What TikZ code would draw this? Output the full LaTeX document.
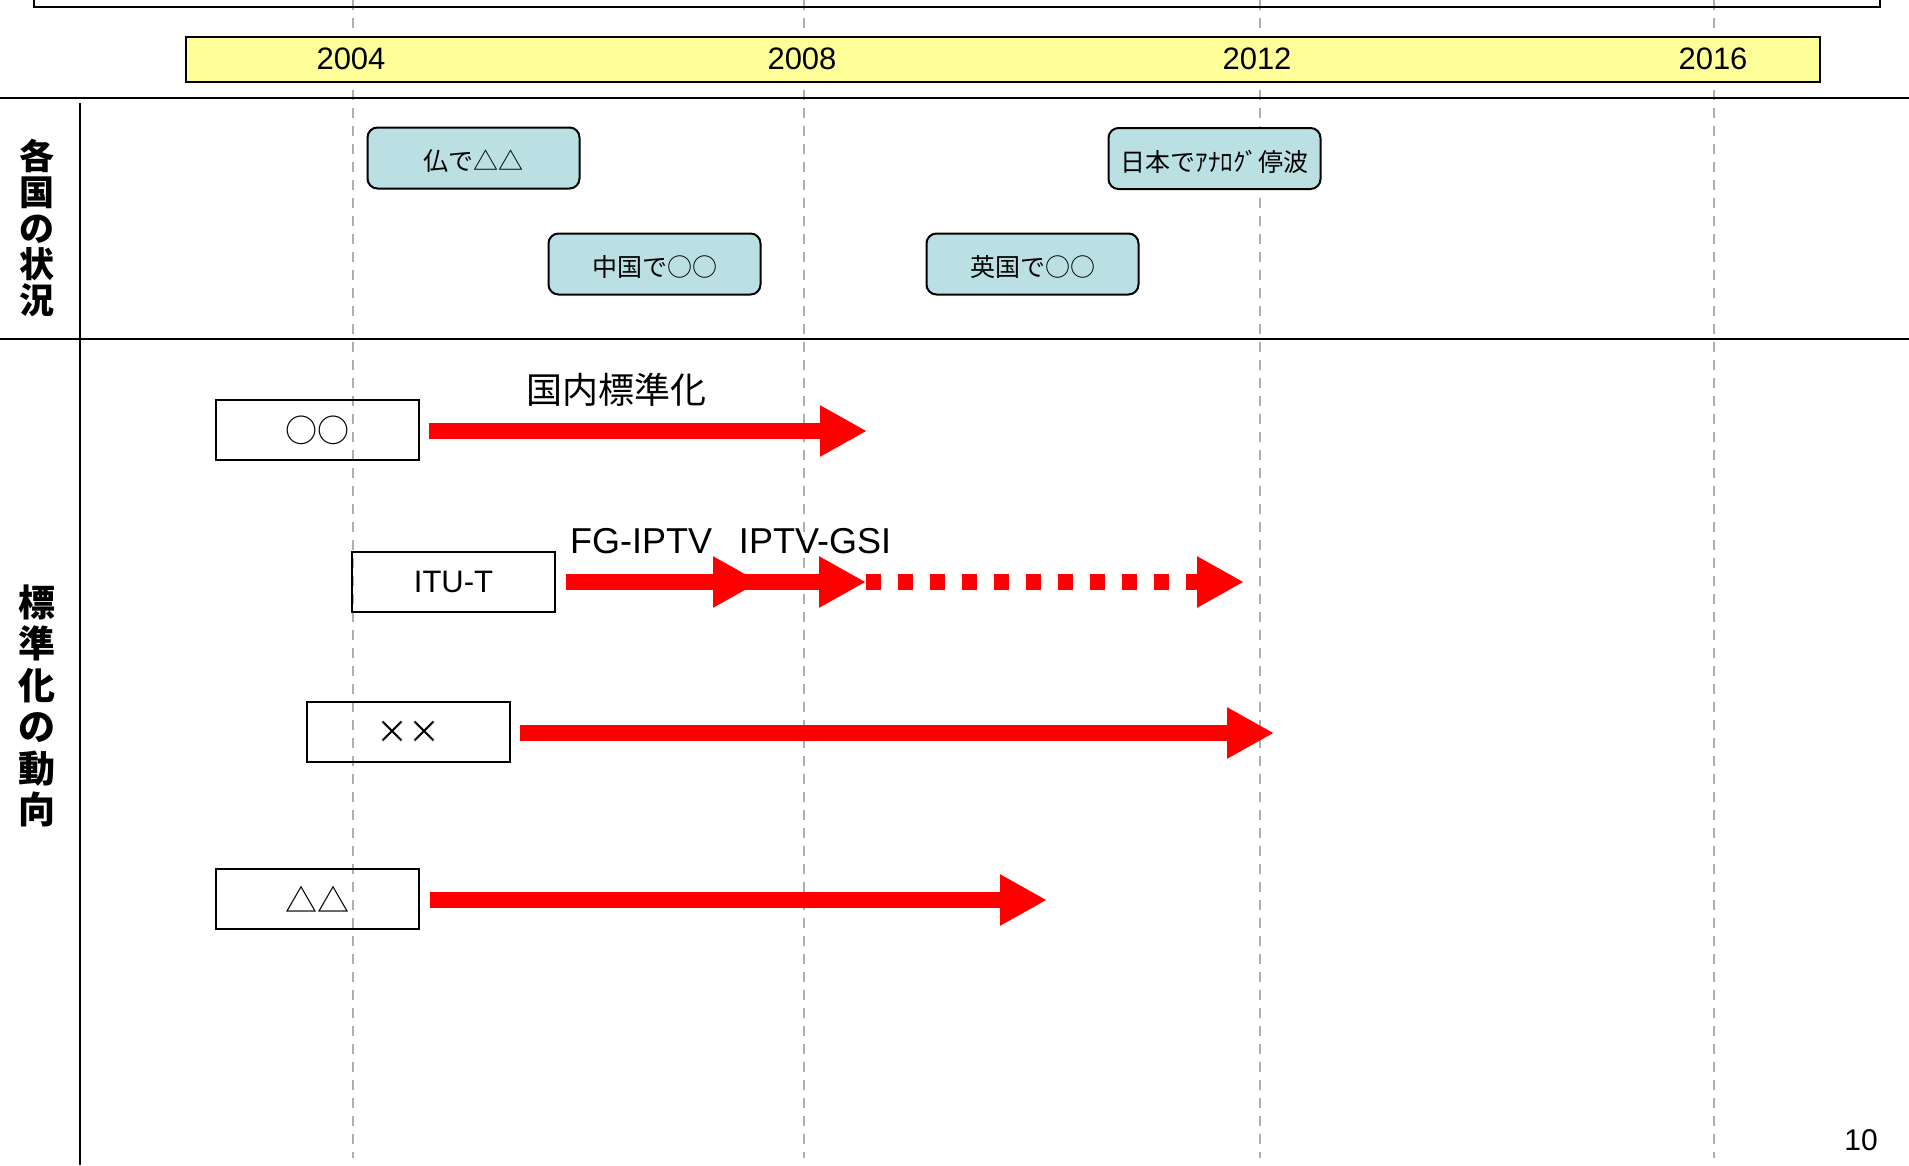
\documentclass[tikz,border=0pt]{standalone}
\usepackage{fontspec}
\setmainfont{Liberation Sans}
\newfontfamily\jp{Noto Sans CJK JP}
\usetikzlibrary{arrows.meta}
\definecolor{cboxfill}{HTML}{BBE0E3}
\definecolor{barfill}{HTML}{FFFF99}
\definecolor{gridgray}{HTML}{AEAEAE}
\newcommand{\lowertxt}[1]{\raisebox{-3pt}[\height][\depth]{#1}}
\begin{document}
\begin{tikzpicture}[x=1pt,y=-1pt,
  gridline/.style={draw=gridgray, line width=2.2pt, dash pattern=on 10pt off 8pt},
  rule/.style={draw=black, line width=2.5pt},
  country/.style={draw=black, line width=2pt, fill=cboxfill, rounded corners=10pt,
    minimum width=212pt, minimum height=61pt, inner sep=0pt,
    font=\jp\fontsize{25}{25}\selectfont},
  stdbox/.style={draw=black, line width=2pt, minimum width=203pt, minimum height=60pt,
    inner sep=0pt},
  bigarrow/.style={draw=red, line width=16pt, -{Triangle[length=47pt,width=48pt]}},
  yearlab/.style={anchor=base, inner sep=0pt, font=\fontsize{31}{31}\selectfont},
  seclab/.style={align=center, inner sep=0pt}
]
\useasboundingbox (0,0) rectangle (1909,1165);
\fill[white] (0,0) rectangle (1909,1165);

% dashed year grid lines
\foreach \gx in {353,804,1260,1714}{
  \draw[gridline] (\gx,0) -- (\gx,1158);
}

% top frame (cut off)
\draw[line width=2pt] (34,-10) rectangle (1880,7);

% year bar
\node[draw=black, fill=barfill, line width=2pt, minimum width=1634pt, minimum height=45pt,
  inner sep=0pt] (bar) at (1003,59.5) {};
\node[yearlab] (y2004) at (351,69) {2004};
\node[yearlab] (y2008) at (802,69) {2008};
\node[yearlab] (y2012) at (1257,69) {2012};
\node[yearlab] (y2016) at (1713,69) {2016};

% section rules
\draw[rule] (0,98) -- (1909,98);
\draw[rule] (0,339) -- (1909,339);
\draw[rule] (80,103) -- (80,1165);

% section labels
\node[seclab, font=\jp\bfseries\fontsize{35}{36}\selectfont] (sec1) at (37,228)
  {各\\国\\の\\状\\況};
\node[seclab, font=\jp\bfseries\fontsize{37}{41.5}\selectfont] (sec2) at (37,706)
  {標\\準\\化\\の\\動\\向};

% country events
\node[country] (fr) at (473.5,158) {\lowertxt{仏で△△}};
\node[country] (cn) at (654.5,264) {\lowertxt{中国で○○}};
\node[country] (jp) at (1214.5,158.5) {\lowertxt{日本でｱﾅﾛｸﾞ停波}};
\node[country] (uk) at (1032.5,264) {\lowertxt{英国で○○}};

% standardization rows
\node[stdbox, font=\jp\fontsize{32}{32}\selectfont] (s1) at (317,430) {○○};
\node[stdbox, font=\fontsize{31}{31}\selectfont] (s2) at (453.5,581.5) {ITU-T};
\node[stdbox, font=\jp\fontsize{32}{32}\selectfont] (s3) at (408.5,732) {××};
\node[stdbox, font=\jp\fontsize{32}{32}\selectfont] (s4) at (317,899) {△△};

\coordinate (t1) at (867,431);
\coordinate (f1) at (760,582);
\coordinate (f2s) at (745,582);
\coordinate (f2) at (866,582);
\coordinate (f3) at (1244,582);
\coordinate (t3) at (1274,733);
\coordinate (t4) at (1047,900);

\draw[bigarrow] ([xshift=9pt]s1.east |- t1) -- (t1);
\draw[bigarrow] ([xshift=10pt]s2.east |- f1) -- (f1);
\draw[bigarrow] (f2s) -- (f2);
\draw[bigarrow, dash pattern=on 15pt off 17pt] (f2) -- (f3);
\draw[bigarrow] ([xshift=9pt]s3.east |- t3) -- (t3);
\draw[bigarrow] ([xshift=10pt]s4.east |- t4) -- (t4);

% arrow labels
\node[inner sep=0pt, font=\jp\fontsize{36}{36}\selectfont] (l1) at (616,390) {国内標準化};
\node[anchor=base, inner sep=0pt, font=\fontsize{36}{36}\selectfont] (l2) at (641,553) {FG-IPTV};
\node[anchor=base, inner sep=0pt, font=\fontsize{36}{36}\selectfont] (l3) at (815,553) {IPTV-GSI};

% page number
\node[anchor=base, inner sep=0pt, font=\fontsize{30}{30}\selectfont] (pg) at (1861,1150) {10};
\end{tikzpicture}
\end{document}
